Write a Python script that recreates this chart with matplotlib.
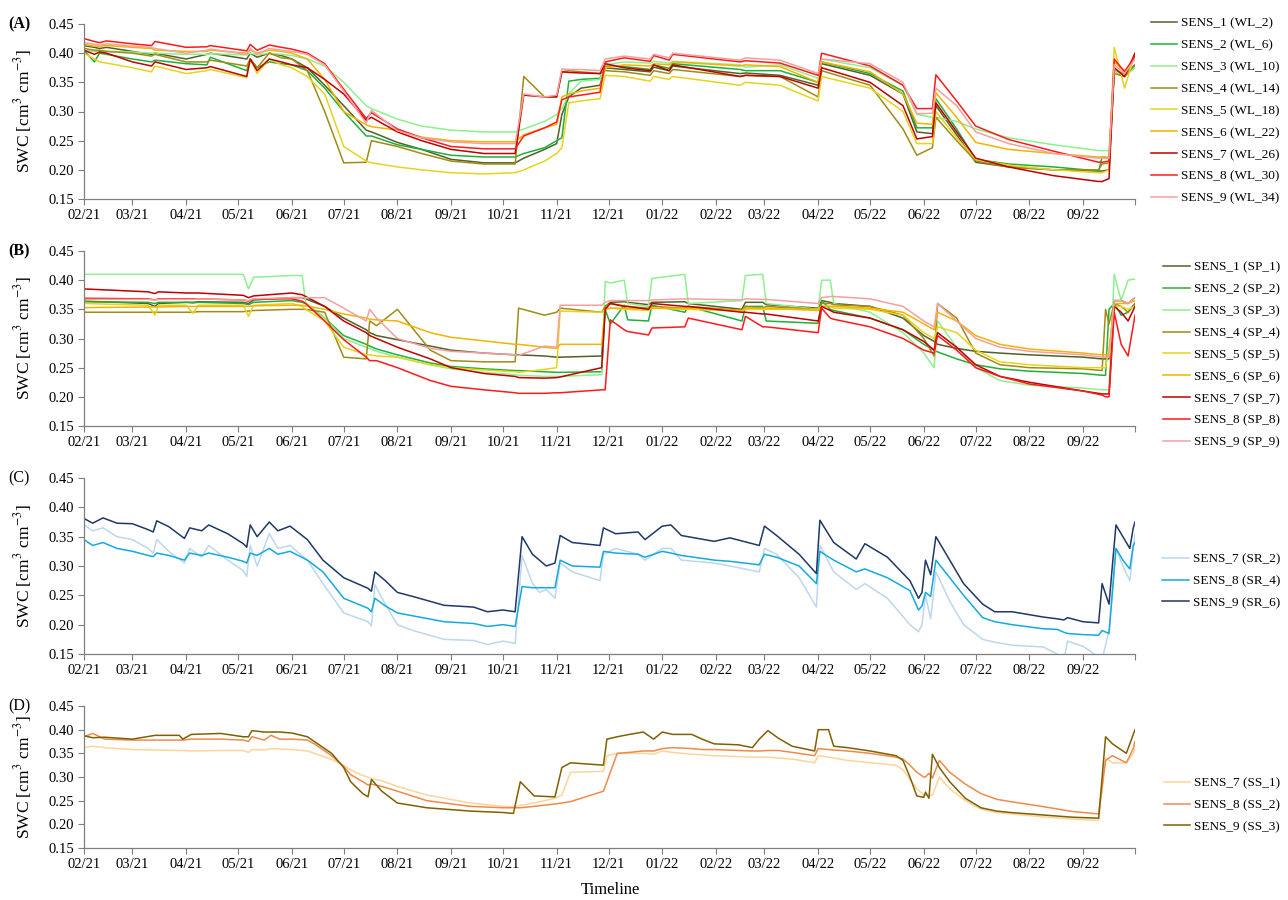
import numpy as np
import pandas as pd
import matplotlib
matplotlib.use('Agg')
import matplotlib.pyplot as plt

plt.rcParams['font.family'] = ['Liberation Serif', 'DejaVu Serif']
plt.rcParams['mathtext.fontset'] = 'stix'

# ---------------- (A) WL sensors ----------------
a_dates = ['2021-02-01', '2021-02-07', '2021-02-10', '2021-02-14', '2021-03-01', '2021-03-12', '2021-03-14', '2021-04-01', '2021-04-13', '2021-04-15',
           '2021-05-06', '2021-05-08', '2021-05-12', '2021-05-19', '2021-05-26', '2021-06-01', '2021-06-10', '2021-06-20', '2021-07-01', '2021-07-14',
           '2021-07-17', '2021-08-01', '2021-08-15', '2021-09-01', '2021-09-20', '2021-10-08', '2021-10-13', '2021-10-25', '2021-11-01', '2021-11-04',
           '2021-11-08', '2021-11-15', '2021-11-26', '2021-11-29', '2021-12-10', '2021-12-25', '2021-12-27', '2022-01-05', '2022-01-07', '2022-02-15',
           '2022-02-18', '2022-03-10', '2022-04-01', '2022-04-03', '2022-05-01', '2022-05-20', '2022-05-28', '2022-06-06', '2022-06-08', '2022-06-20',
           '2022-07-01', '2022-07-20', '2022-08-15', '2022-09-10', '2022-09-12', '2022-09-16', '2022-09-19', '2022-09-25', '2022-10-01']

a_sens1 = [0.413, 0.410, 0.408, 0.410, 0.403, 0.398, 0.400, 0.390, 0.398, 0.400,
           0.390, 0.400, 0.393, 0.400, 0.396, 0.390, 0.375, 0.345, 0.310, 0.268,
           0.265, 0.247, 0.235, 0.218, 0.212, 0.212, 0.220, 0.235, 0.245, 0.295,
           0.325, 0.340, 0.345, 0.375, 0.372, 0.368, 0.376, 0.370, 0.378, 0.365,
           0.366, 0.362, 0.345, 0.382, 0.362, 0.330, 0.265, 0.262, 0.310, 0.260,
           0.213, 0.205, 0.200, 0.198, 0.198, 0.200, 0.370, 0.360, 0.380]
a_sens2 = [0.405, 0.385, 0.400, 0.398, 0.390, 0.385, 0.388, 0.382, 0.380, 0.393,
           0.370, 0.390, 0.375, 0.385, 0.382, 0.380, 0.370, 0.340, 0.300, 0.258,
           0.258, 0.243, 0.235, 0.225, 0.222, 0.222, 0.228, 0.238, 0.250, 0.255,
           0.352, 0.355, 0.357, 0.378, 0.377, 0.372, 0.380, 0.374, 0.382, 0.372,
           0.370, 0.370, 0.350, 0.385, 0.365, 0.335, 0.272, 0.272, 0.322, 0.270,
           0.218, 0.210, 0.205, 0.198, 0.222, 0.220, 0.370, 0.365, 0.380]
a_sens3 = [0.405, 0.403, 0.403, 0.403, 0.402, 0.400, 0.400, 0.398, 0.398, 0.399,
           0.397, 0.400, 0.397, 0.400, 0.398, 0.396, 0.390, 0.378, 0.350, 0.310,
           0.305, 0.287, 0.275, 0.268, 0.265, 0.265, 0.270, 0.283, 0.295, 0.305,
           0.330, 0.352, 0.355, 0.380, 0.385, 0.383, 0.386, 0.383, 0.386, 0.380,
           0.376, 0.380, 0.357, 0.390, 0.375, 0.345, 0.295, 0.290, 0.290, 0.283,
           0.270, 0.255, 0.243, 0.233, 0.233, 0.233, 0.370, 0.360, 0.375]
a_sens4 = [0.408, 0.405, 0.405, 0.403, 0.400, 0.395, 0.398, 0.385, 0.385, 0.388,
           0.378, 0.390, 0.375, 0.400, 0.392, 0.390, 0.370, 0.300, 0.212, 0.213,
           0.250, 0.240, 0.228, 0.215, 0.210, 0.210, 0.360, 0.325, 0.325, 0.368,
           0.370, 0.368, 0.365, 0.370, 0.368, 0.362, 0.370, 0.365, 0.372, 0.360,
           0.362, 0.360, 0.325, 0.370, 0.345, 0.270, 0.225, 0.238, 0.290, 0.250,
           0.215, 0.205, 0.200, 0.200, 0.210, 0.212, 0.365, 0.360, 0.380]
a_sens5 = [0.400, 0.390, 0.385, 0.383, 0.375, 0.368, 0.378, 0.365, 0.370, 0.372,
           0.358, 0.390, 0.365, 0.390, 0.380, 0.375, 0.360, 0.330, 0.240, 0.215,
           0.212, 0.205, 0.200, 0.195, 0.193, 0.195, 0.200, 0.215, 0.228, 0.238,
           0.315, 0.318, 0.322, 0.362, 0.360, 0.352, 0.360, 0.355, 0.360, 0.345,
           0.350, 0.345, 0.318, 0.360, 0.340, 0.300, 0.245, 0.245, 0.300, 0.255,
           0.218, 0.208, 0.200, 0.195, 0.195, 0.200, 0.410, 0.340, 0.400]
a_sens6 = [0.415, 0.412, 0.412, 0.413, 0.410, 0.408, 0.405, 0.403, 0.403, 0.405,
           0.400, 0.405, 0.400, 0.405, 0.403, 0.400, 0.390, 0.355, 0.300, 0.277,
           0.274, 0.268, 0.256, 0.250, 0.248, 0.248, 0.260, 0.272, 0.278, 0.325,
           0.330, 0.335, 0.340, 0.375, 0.380, 0.378, 0.382, 0.380, 0.385, 0.378,
           0.380, 0.377, 0.350, 0.385, 0.368, 0.330, 0.280, 0.278, 0.332, 0.290,
           0.247, 0.235, 0.228, 0.222, 0.222, 0.222, 0.385, 0.370, 0.390]
a_sens7 = [0.405, 0.398, 0.402, 0.400, 0.385, 0.378, 0.385, 0.372, 0.375, 0.377,
           0.360, 0.390, 0.370, 0.390, 0.385, 0.380, 0.375, 0.355, 0.330, 0.285,
           0.290, 0.265, 0.250, 0.235, 0.228, 0.228, 0.328, 0.325, 0.325, 0.368,
           0.367, 0.366, 0.365, 0.382, 0.375, 0.370, 0.380, 0.370, 0.380, 0.360,
           0.362, 0.360, 0.340, 0.375, 0.350, 0.310, 0.253, 0.257, 0.315, 0.265,
           0.220, 0.205, 0.190, 0.180, 0.180, 0.185, 0.375, 0.360, 0.400]
a_sens8 = [0.425, 0.420, 0.418, 0.421, 0.416, 0.413, 0.420, 0.410, 0.411, 0.413,
           0.404, 0.415, 0.405, 0.414, 0.410, 0.407, 0.400, 0.382, 0.338, 0.288,
           0.298, 0.270, 0.255, 0.240, 0.236, 0.236, 0.258, 0.272, 0.282, 0.320,
           0.325, 0.328, 0.333, 0.385, 0.392, 0.386, 0.396, 0.388, 0.398, 0.385,
           0.387, 0.383, 0.362, 0.400, 0.378, 0.345, 0.305, 0.305, 0.363, 0.318,
           0.275, 0.252, 0.232, 0.213, 0.213, 0.215, 0.390, 0.368, 0.395]
a_sens9 = [0.418, 0.415, 0.414, 0.416, 0.412, 0.410, 0.408, 0.400, 0.405, 0.407,
           0.398, 0.408, 0.398, 0.408, 0.405, 0.403, 0.398, 0.380, 0.335, 0.280,
           0.302, 0.267, 0.255, 0.248, 0.245, 0.245, 0.330, 0.325, 0.328, 0.373,
           0.372, 0.372, 0.370, 0.390, 0.395, 0.390, 0.398, 0.392, 0.400, 0.388,
           0.392, 0.388, 0.365, 0.390, 0.382, 0.350, 0.296, 0.297, 0.340, 0.310,
           0.265, 0.245, 0.228, 0.220, 0.220, 0.220, 0.380, 0.365, 0.390]
a_labels = ['SENS_1 (WL_2)', 'SENS_2 (WL_6)', 'SENS_3 (WL_10)', 'SENS_4 (WL_14)', 'SENS_5 (WL_18)',
            'SENS_6 (WL_22)', 'SENS_7 (WL_26)', 'SENS_8 (WL_30)', 'SENS_9 (WL_34)']

# ---------------- (B) SP sensors ----------------
b_dates = ['2021-02-01', '2021-03-10', '2021-03-14', '2021-03-16', '2021-04-01', '2021-04-05', '2021-04-08', '2021-05-04', '2021-05-07', '2021-05-10',
           '2021-06-01', '2021-06-07', '2021-06-09', '2021-06-20', '2021-07-01', '2021-07-14', '2021-07-16', '2021-07-20', '2021-08-01', '2021-08-20',
           '2021-09-01', '2021-09-20', '2021-10-08', '2021-10-10', '2021-10-25', '2021-11-01', '2021-11-03', '2021-11-27', '2021-11-29', '2021-12-02',
           '2021-12-10', '2021-12-12', '2021-12-24', '2021-12-26', '2022-01-14', '2022-01-16', '2022-02-16', '2022-02-18', '2022-02-28', '2022-03-02',
           '2022-04-01', '2022-04-03', '2022-04-08', '2022-04-10', '2022-05-01', '2022-05-20', '2022-06-01', '2022-06-07', '2022-06-09', '2022-06-20',
           '2022-07-01', '2022-07-15', '2022-08-01', '2022-09-01', '2022-09-12', '2022-09-14', '2022-09-16', '2022-09-19', '2022-09-23', '2022-09-27',
           '2022-10-01']

b_sens1 = [0.364, 0.360, 0.355, 0.360, 0.362, 0.362, 0.363, 0.362, 0.360, 0.366,
           0.370, 0.370, 0.368, 0.355, 0.335, 0.315, 0.310, 0.305, 0.298, 0.287,
           0.280, 0.275, 0.272, 0.272, 0.270, 0.268, 0.268, 0.270, 0.355, 0.362,
           0.363, 0.362, 0.358, 0.362, 0.363, 0.360, 0.350, 0.362, 0.362, 0.358,
           0.352, 0.365, 0.362, 0.360, 0.355, 0.335, 0.305, 0.295, 0.290, 0.283,
           0.278, 0.275, 0.272, 0.268, 0.265, 0.265, 0.265, 0.365, 0.365, 0.360,
           0.370]
b_sens2 = [0.363, 0.362, 0.360, 0.362, 0.362, 0.361, 0.362, 0.360, 0.358, 0.362,
           0.365, 0.362, 0.360, 0.335, 0.305, 0.290, 0.287, 0.282, 0.272, 0.258,
           0.252, 0.248, 0.245, 0.245, 0.243, 0.242, 0.242, 0.243, 0.350, 0.325,
           0.357, 0.332, 0.330, 0.357, 0.345, 0.355, 0.330, 0.355, 0.355, 0.330,
           0.326, 0.365, 0.350, 0.348, 0.335, 0.315, 0.290, 0.280, 0.277, 0.265,
           0.255, 0.248, 0.244, 0.240, 0.237, 0.237, 0.350, 0.360, 0.340, 0.345,
           0.360]
b_sens3 = [0.410, 0.410, 0.410, 0.410, 0.410, 0.410, 0.410, 0.410, 0.385, 0.405,
           0.408, 0.408, 0.362, 0.335, 0.300, 0.285, 0.283, 0.278, 0.268, 0.255,
           0.248, 0.242, 0.238, 0.237, 0.235, 0.235, 0.235, 0.238, 0.398, 0.395,
           0.400, 0.360, 0.355, 0.403, 0.410, 0.360, 0.365, 0.408, 0.410, 0.360,
           0.350, 0.400, 0.400, 0.360, 0.345, 0.310, 0.275, 0.250, 0.330, 0.285,
           0.250, 0.228, 0.220, 0.215, 0.212, 0.212, 0.212, 0.410, 0.365, 0.400,
           0.402]
b_sens4 = [0.345, 0.345, 0.345, 0.345, 0.345, 0.345, 0.346, 0.346, 0.347, 0.348,
           0.350, 0.350, 0.350, 0.345, 0.268, 0.265, 0.330, 0.322, 0.350, 0.280,
           0.262, 0.260, 0.260, 0.352, 0.340, 0.345, 0.352, 0.345, 0.355, 0.360,
           0.356, 0.355, 0.352, 0.355, 0.352, 0.355, 0.348, 0.355, 0.352, 0.355,
           0.350, 0.360, 0.360, 0.358, 0.355, 0.340, 0.300, 0.270, 0.360, 0.335,
           0.275, 0.255, 0.250, 0.248, 0.245, 0.350, 0.325, 0.360, 0.355, 0.345,
           0.360]
b_sens5 = [0.360, 0.357, 0.340, 0.357, 0.357, 0.343, 0.357, 0.357, 0.338, 0.357,
           0.360, 0.355, 0.350, 0.330, 0.285, 0.272, 0.272, 0.270, 0.268, 0.255,
           0.250, 0.246, 0.243, 0.242, 0.247, 0.250, 0.347, 0.345, 0.350, 0.352,
           0.350, 0.350, 0.348, 0.352, 0.350, 0.350, 0.347, 0.350, 0.350, 0.350,
           0.350, 0.355, 0.355, 0.352, 0.350, 0.340, 0.310, 0.300, 0.320, 0.310,
           0.280, 0.260, 0.255, 0.250, 0.250, 0.250, 0.285, 0.355, 0.355, 0.350,
           0.355]
b_sens6 = [0.353, 0.354, 0.354, 0.354, 0.355, 0.355, 0.355, 0.355, 0.355, 0.356,
           0.357, 0.357, 0.356, 0.350, 0.342, 0.335, 0.333, 0.332, 0.330, 0.310,
           0.302, 0.296, 0.290, 0.290, 0.285, 0.283, 0.290, 0.290, 0.350, 0.352,
           0.352, 0.352, 0.350, 0.352, 0.352, 0.352, 0.348, 0.352, 0.352, 0.352,
           0.348, 0.355, 0.355, 0.355, 0.352, 0.345, 0.325, 0.315, 0.345, 0.330,
           0.305, 0.290, 0.282, 0.275, 0.272, 0.272, 0.272, 0.360, 0.360, 0.360,
           0.365]
b_sens7 = [0.385, 0.380, 0.377, 0.380, 0.378, 0.378, 0.378, 0.374, 0.370, 0.373,
           0.378, 0.375, 0.372, 0.355, 0.330, 0.310, 0.305, 0.300, 0.285, 0.265,
           0.250, 0.240, 0.235, 0.233, 0.232, 0.233, 0.234, 0.250, 0.350, 0.360,
           0.355, 0.355, 0.350, 0.360, 0.355, 0.355, 0.345, 0.345, 0.342, 0.342,
           0.330, 0.355, 0.348, 0.345, 0.335, 0.315, 0.295, 0.280, 0.310, 0.285,
           0.255, 0.235, 0.225, 0.210, 0.205, 0.205, 0.205, 0.355, 0.345, 0.330,
           0.355]
b_sens8 = [0.369, 0.368, 0.366, 0.368, 0.368, 0.368, 0.368, 0.366, 0.364, 0.368,
           0.368, 0.364, 0.360, 0.330, 0.298, 0.268, 0.262, 0.262, 0.250, 0.228,
           0.218, 0.212, 0.207, 0.206, 0.206, 0.207, 0.207, 0.212, 0.212, 0.332,
           0.315, 0.312, 0.306, 0.318, 0.320, 0.335, 0.315, 0.338, 0.320, 0.320,
           0.310, 0.352, 0.335, 0.333, 0.320, 0.300, 0.280, 0.275, 0.305, 0.280,
           0.250, 0.235, 0.222, 0.210, 0.203, 0.200, 0.200, 0.345, 0.290, 0.270,
           0.340]
b_sens9 = [0.367, 0.367, 0.366, 0.367, 0.367, 0.367, 0.368, 0.366, 0.365, 0.368,
           0.370, 0.370, 0.370, 0.370, 0.352, 0.330, 0.350, 0.335, 0.300, 0.283,
           0.278, 0.275, 0.272, 0.271, 0.287, 0.285, 0.357, 0.357, 0.362, 0.365,
           0.365, 0.365, 0.365, 0.366, 0.368, 0.368, 0.366, 0.368, 0.367, 0.367,
           0.360, 0.370, 0.372, 0.372, 0.368, 0.355, 0.330, 0.320, 0.360, 0.330,
           0.300, 0.285, 0.278, 0.272, 0.268, 0.268, 0.268, 0.365, 0.365, 0.360,
           0.370]
b_labels = ['SENS_1 (SP_1)', 'SENS_2 (SP_2)', 'SENS_3 (SP_3)', 'SENS_4 (SP_4)', 'SENS_5 (SP_5)',
            'SENS_6 (SP_6)', 'SENS_7 (SP_7)', 'SENS_8 (SP_8)', 'SENS_9 (SP_9)']

# ---------------- (C) SR sensors ----------------
c_dates = ['2021-02-01', '2021-02-06', '2021-02-12', '2021-02-20', '2021-03-01', '2021-03-10', '2021-03-13', '2021-03-15', '2021-03-22', '2021-03-31',
           '2021-04-03', '2021-04-10', '2021-04-14', '2021-04-25', '2021-05-04', '2021-05-06', '2021-05-08', '2021-05-12', '2021-05-19', '2021-05-24',
           '2021-05-31', '2021-06-10', '2021-06-19', '2021-07-01', '2021-07-15', '2021-07-17', '2021-07-19', '2021-07-25', '2021-08-01', '2021-08-10',
           '2021-08-28', '2021-09-14', '2021-09-22', '2021-10-01', '2021-10-08', '2021-10-12', '2021-10-18', '2021-10-22', '2021-10-26', '2021-10-31',
           '2021-11-03', '2021-11-10', '2021-11-26', '2021-11-28', '2021-12-05', '2021-12-18', '2021-12-22', '2022-01-01', '2022-01-06', '2022-01-12',
           '2022-01-31', '2022-02-09', '2022-02-26', '2022-03-01', '2022-03-08', '2022-03-21', '2022-03-31', '2022-04-02', '2022-04-10', '2022-04-23',
           '2022-04-28', '2022-05-11', '2022-05-24', '2022-05-29', '2022-05-31', '2022-06-02', '2022-06-05', '2022-06-08', '2022-06-16', '2022-06-24',
           '2022-07-05', '2022-07-12', '2022-07-22', '2022-08-09', '2022-08-17', '2022-08-21', '2022-08-23', '2022-09-01', '2022-09-10', '2022-09-12',
           '2022-09-16', '2022-09-20', '2022-09-24', '2022-09-28', '2022-09-30', '2022-10-01']

c_sr2 = [0.370, 0.360, 0.365, 0.350, 0.345, 0.330, 0.322, 0.345, 0.325, 0.305,
         0.330, 0.315, 0.335, 0.310, 0.292, 0.282, 0.335, 0.300, 0.355, 0.330,
         0.335, 0.310, 0.270, 0.220, 0.205, 0.198, 0.268, 0.235, 0.200, 0.190,
         0.175, 0.173, 0.166, 0.172, 0.168, 0.318, 0.270, 0.255, 0.260, 0.245,
         0.305, 0.290, 0.275, 0.320, 0.330, 0.320, 0.310, 0.330, 0.330, 0.310,
         0.305, 0.300, 0.290, 0.330, 0.320, 0.280, 0.230, 0.335, 0.290, 0.260,
         0.270, 0.245, 0.200, 0.188, 0.200, 0.250, 0.210, 0.290, 0.240, 0.200,
         0.175, 0.170, 0.165, 0.162, 0.150, 0.140, 0.172, 0.163, 0.145, 0.140,
         0.190, 0.330, 0.300, 0.275, 0.330, 0.355]
c_sr4 = [0.345, 0.335, 0.340, 0.330, 0.325, 0.318, 0.316, 0.322, 0.318, 0.310,
         0.322, 0.318, 0.322, 0.315, 0.308, 0.305, 0.322, 0.318, 0.330, 0.320,
         0.325, 0.310, 0.290, 0.245, 0.228, 0.222, 0.245, 0.232, 0.220, 0.215,
         0.205, 0.202, 0.197, 0.200, 0.197, 0.265, 0.263, 0.263, 0.263, 0.263,
         0.310, 0.300, 0.298, 0.325, 0.322, 0.320, 0.315, 0.325, 0.322, 0.318,
         0.310, 0.308, 0.302, 0.320, 0.315, 0.300, 0.270, 0.325, 0.310, 0.290,
         0.295, 0.280, 0.258, 0.225, 0.232, 0.255, 0.248, 0.310, 0.280, 0.250,
         0.212, 0.205, 0.200, 0.193, 0.192, 0.187, 0.185, 0.183, 0.182, 0.190,
         0.185, 0.330, 0.310, 0.295, 0.335, 0.340]
c_sr6 = [0.381, 0.373, 0.382, 0.373, 0.372, 0.362, 0.358, 0.377, 0.367, 0.347,
         0.365, 0.360, 0.370, 0.355, 0.338, 0.332, 0.370, 0.350, 0.375, 0.360,
         0.368, 0.345, 0.310, 0.280, 0.262, 0.257, 0.290, 0.275, 0.255, 0.248,
         0.233, 0.230, 0.222, 0.225, 0.222, 0.350, 0.320, 0.310, 0.300, 0.305,
         0.352, 0.340, 0.335, 0.365, 0.355, 0.358, 0.345, 0.368, 0.370, 0.352,
         0.342, 0.348, 0.335, 0.368, 0.352, 0.320, 0.287, 0.378, 0.340, 0.312,
         0.338, 0.315, 0.275, 0.245, 0.255, 0.310, 0.285, 0.350, 0.310, 0.270,
         0.235, 0.222, 0.222, 0.213, 0.210, 0.208, 0.212, 0.205, 0.203, 0.270,
         0.235, 0.370, 0.350, 0.330, 0.365, 0.375]
c_labels = ['SENS_7 (SR_2)', 'SENS_8 (SR_4)', 'SENS_9 (SR_6)']

# ---------------- (D) SS sensors ----------------
d_dates = ['2021-02-01', '2021-02-06', '2021-02-13', '2021-02-21', '2021-03-01', '2021-03-14', '2021-03-28', '2021-03-30', '2021-04-04', '2021-04-21',
           '2021-05-04', '2021-05-07', '2021-05-09', '2021-05-16', '2021-05-20', '2021-05-25', '2021-06-01', '2021-06-10', '2021-06-14', '2021-06-24',
           '2021-07-01', '2021-07-05', '2021-07-12', '2021-07-15', '2021-07-17', '2021-07-23', '2021-08-01', '2021-08-18', '2021-09-12', '2021-10-01',
           '2021-10-07', '2021-10-11', '2021-10-19', '2021-10-31', '2021-11-04', '2021-11-09', '2021-11-28', '2021-11-30', '2021-12-06', '2021-12-13',
           '2021-12-21', '2021-12-27', '2022-01-01', '2022-01-07', '2022-01-18', '2022-01-24', '2022-01-31', '2022-02-14', '2022-02-22', '2022-02-26',
           '2022-03-03', '2022-03-09', '2022-03-17', '2022-03-30', '2022-04-01', '2022-04-07', '2022-04-10', '2022-04-18', '2022-05-01', '2022-05-16',
           '2022-05-20', '2022-05-24', '2022-05-28', '2022-06-01', '2022-06-02', '2022-06-04', '2022-06-06', '2022-06-10', '2022-06-16', '2022-06-25',
           '2022-07-04', '2022-07-13', '2022-07-21', '2022-08-08', '2022-08-26', '2022-09-10', '2022-09-14', '2022-09-18', '2022-09-26', '2022-09-30',
           '2022-10-01']

d_ss1 = [0.362, 0.365, 0.362, 0.360, 0.358, 0.357, 0.356, 0.356, 0.355, 0.356,
         0.356, 0.352, 0.358, 0.357, 0.360, 0.359, 0.358, 0.355, 0.350, 0.337,
         0.325, 0.315, 0.303, 0.300, 0.297, 0.292, 0.280, 0.262, 0.245, 0.238,
         0.237, 0.240, 0.245, 0.255, 0.262, 0.310, 0.312, 0.345, 0.350, 0.350,
         0.350, 0.348, 0.355, 0.352, 0.348, 0.347, 0.345, 0.343, 0.342, 0.342,
         0.342, 0.340, 0.338, 0.330, 0.345, 0.342, 0.340, 0.335, 0.330, 0.325,
         0.315, 0.295, 0.275, 0.262, 0.262, 0.260, 0.262, 0.300, 0.275, 0.250,
         0.232, 0.225, 0.222, 0.216, 0.211, 0.208, 0.340, 0.330, 0.330, 0.350,
         0.360]
d_ss2 = [0.385, 0.392, 0.380, 0.379, 0.378, 0.378, 0.378, 0.378, 0.380, 0.380,
         0.378, 0.375, 0.385, 0.378, 0.388, 0.380, 0.380, 0.378, 0.370, 0.345,
         0.322, 0.305, 0.290, 0.283, 0.285, 0.280, 0.270, 0.250, 0.238, 0.235,
         0.235, 0.235, 0.238, 0.243, 0.245, 0.248, 0.270, 0.290, 0.350, 0.352,
         0.355, 0.355, 0.360, 0.362, 0.360, 0.358, 0.358, 0.356, 0.355, 0.355,
         0.356, 0.356, 0.352, 0.345, 0.360, 0.358, 0.357, 0.355, 0.350, 0.342,
         0.338, 0.325, 0.310, 0.300, 0.300, 0.308, 0.298, 0.335, 0.310, 0.285,
         0.265, 0.253, 0.248, 0.238, 0.227, 0.222, 0.335, 0.345, 0.330, 0.360,
         0.375]
d_ss3 = [0.387, 0.383, 0.384, 0.382, 0.380, 0.388, 0.388, 0.380, 0.390, 0.392,
         0.385, 0.385, 0.398, 0.395, 0.395, 0.395, 0.393, 0.385, 0.375, 0.350,
         0.320, 0.290, 0.265, 0.258, 0.295, 0.270, 0.245, 0.235, 0.228, 0.225,
         0.223, 0.290, 0.260, 0.258, 0.320, 0.330, 0.325, 0.380, 0.385, 0.390,
         0.395, 0.380, 0.395, 0.390, 0.390, 0.380, 0.370, 0.368, 0.362, 0.380,
         0.398, 0.382, 0.365, 0.355, 0.400, 0.400, 0.365, 0.362, 0.355, 0.345,
         0.335, 0.300, 0.260, 0.257, 0.268, 0.255, 0.348, 0.320, 0.290, 0.255,
         0.235, 0.228, 0.225, 0.220, 0.215, 0.213, 0.385, 0.370, 0.350, 0.390,
         0.400]
d_labels = ['SENS_7 (SS_1)', 'SENS_8 (SS_2)', 'SENS_9 (SS_3)']

nine_colors = ['#4f6228', '#1fb03a', '#8ef08e', '#a08c12', '#e8d31c',
               '#f4b300', '#c00000', '#ff1a1a', '#f5a0a0']
c_colors = ['#bdd7ee', '#14a9e0', '#1f3864']
d_colors = ['#fdd49a', '#f08a4b', '#7f6000']

W, H = 1288, 900
fig = plt.figure(figsize=(W / 100, H / 100), dpi=100)

month_ticks = pd.date_range('2021-02-01', '2022-10-01', freq='MS')
month_labels = [d.strftime('%m/%y') for d in month_ticks[:-1]] + ['']
grey = '#7f7f7f'


def panel(top, bottom, dates, series, labels, colors, tag, leg_y, bold_tag=True):
    ax = fig.add_axes([84 / W, 1 - bottom / H, (1135 - 84) / W, (bottom - top) / H])
    x = pd.to_datetime(dates)
    for vals, lab, col in zip(series, labels, colors):
        ax.plot(x, vals, color=col, lw=1.1, label=lab)
    ax.set_xlim(month_ticks[0], month_ticks[-1])
    ax.set_ylim(0.15, 0.45)
    ax.set_yticks(np.arange(0.15, 0.451, 0.05))
    ax.set_yticklabels(['%.2f' % v for v in np.arange(0.15, 0.451, 0.05)])
    ax.set_xticks(month_ticks)
    ax.set_xticklabels(month_labels)
    for s in ['top', 'right']:
        ax.spines[s].set_visible(False)
    for s in ['left', 'bottom']:
        ax.spines[s].set_color(grey)
        ax.spines[s].set_linewidth(0.9)
    ax.tick_params(axis='both', direction='out', length=4, color=grey, labelsize=10.5, pad=3)
    ax.set_ylabel('SWC [cm$^{3}$ cm$^{-3}$]', fontsize=12.5)
    ax.yaxis.set_label_coords(-0.048, 0.5)
    ax.legend(loc='center right', bbox_to_anchor=(1280 / W, 1 - leg_y / H),
              bbox_transform=fig.transFigure, frameon=False, fontsize=9.5,
              handlelength=2.0, handletextpad=0.3, labelspacing=0.73,
              borderpad=0, borderaxespad=0)
    fig.text(8 / W, 1 - top / H, tag, fontsize=11.5,
             fontweight='bold' if bold_tag else 'normal', va='center', ha='left')
    return ax


panel(24, 199, a_dates,
      [a_sens1, a_sens2, a_sens3, a_sens4, a_sens5, a_sens6, a_sens7, a_sens8, a_sens9],
      a_labels, nine_colors, '(A)', 111)
panel(251, 426, b_dates,
      [b_sens1, b_sens2, b_sens3, b_sens4, b_sens5, b_sens6, b_sens7, b_sens8, b_sens9],
      b_labels, nine_colors, '(B)', 355)
panel(478, 654, c_dates, [c_sr2, c_sr4, c_sr6], c_labels, c_colors, '(C)', 581, bold_tag=False)
panel(706, 848, d_dates, [d_ss1, d_ss2, d_ss3], d_labels, d_colors, '(D)', 805, bold_tag=False)

fig.text(610 / W, 1 - 890 / H, 'Timeline', fontsize=12, ha='center', va='center')

fig.savefig('out.png', dpi=100)
